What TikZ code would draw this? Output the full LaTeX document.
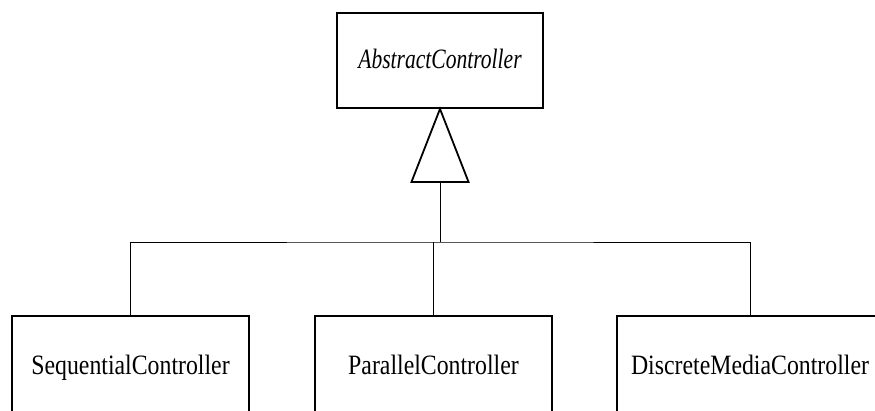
\documentclass[tikz,border=0pt]{standalone}
\usepackage{fontspec}
\setmainfont{Liberation Serif}[FakeStretch=0.85]
\newfontfamily\italfont{Liberation Serif}[FakeStretch=0.77]
\usetikzlibrary{positioning}

\tikzset{
  classbox/.style={draw, line width=1.8pt, rectangle, minimum width=237pt,
    minimum height=98pt, text height=18pt, text depth=0pt, inner sep=0pt,
    font=\fontsize{28}{30}\selectfont},
  abstractbox/.style={classbox, minimum width=206pt, minimum height=95pt,
    text height=15pt, font=\fontsize{28}{30}\selectfont\italfont\itshape},
  link/.style={line width=0.8pt},
}

\begin{document}
\begin{tikzpicture}[x=1pt, y=-1pt]
    \useasboundingbox (0,0) rectangle (875,410);
    \node[abstractbox] (abstract) at (440,60.5) {AbstractController};
    \node[classbox] (seq) at (130.5,365) {SequentialController};
    \node[classbox] (par) at (433.5,365) {ParallelController};
    \node[classbox, minimum width=266pt] (disc) at (750,365) {DiscreteMediaController};
    % inheritance triangle
    \coordinate (base) at (440,181);
    \coordinate (join) at (440,242);
    \draw[line width=1.8pt, line join=miter] (abstract.south)
      -- ++(-28.5,73) -- ++(57,0) -- cycle;
    \draw[link] (base) -- (join);
    \draw[link] (seq.north) |- (join) -| (disc.north);
    \draw[link] (par.north) -- (par.north |- join);
  \end{tikzpicture}
\end{document}
